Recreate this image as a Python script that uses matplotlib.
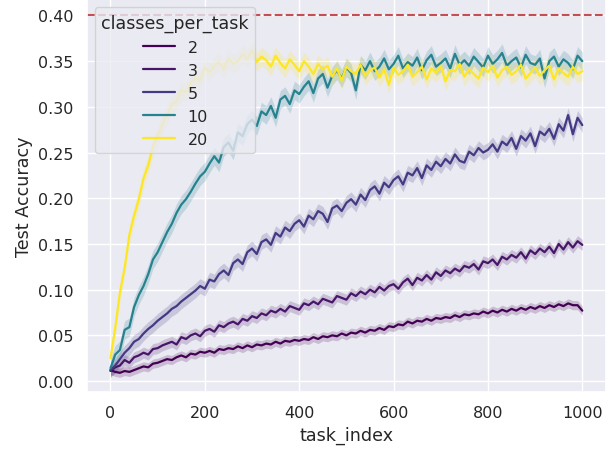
import numpy as np
import matplotlib
matplotlib.use("Agg")
import matplotlib.pyplot as plt
import seaborn as sns

# classes per task (hue levels)
classes_per_task = [2, 3, 5, 10, 20]

# task index, sampled every 10 tasks
task_index = list(range(0, 1001, 10))

acc_2 = [0.012, 0.010, 0.009, 0.011, 0.010, 0.012, 0.014, 0.016, 0.015, 0.019,
         0.020, 0.022, 0.024, 0.023, 0.026, 0.028, 0.026, 0.030, 0.029, 0.032,
         0.031, 0.033, 0.031, 0.035, 0.034, 0.036, 0.035, 0.038, 0.036, 0.039,
         0.037, 0.040, 0.039, 0.041, 0.040, 0.043, 0.041, 0.044, 0.043, 0.045,
         0.044, 0.046, 0.045, 0.048, 0.046, 0.049, 0.048, 0.050, 0.049, 0.052,
         0.050, 0.053, 0.052, 0.055, 0.053, 0.056, 0.055, 0.058, 0.056, 0.060,
         0.059, 0.062, 0.061, 0.065, 0.063, 0.066, 0.065, 0.068, 0.066, 0.069,
         0.068, 0.070, 0.069, 0.072, 0.070, 0.073, 0.072, 0.074, 0.073, 0.076,
         0.074, 0.077, 0.075, 0.078, 0.076, 0.079, 0.077, 0.080, 0.078, 0.081,
         0.079, 0.082, 0.080, 0.083, 0.081, 0.084, 0.082, 0.085, 0.083, 0.083,
         0.077]

acc_3 = [0.011, 0.015, 0.017, 0.023, 0.020, 0.026, 0.028, 0.031, 0.029, 0.035,
         0.036, 0.039, 0.041, 0.043, 0.040, 0.048, 0.046, 0.050, 0.052, 0.049,
         0.055, 0.057, 0.054, 0.061, 0.059, 0.063, 0.065, 0.062, 0.068, 0.066,
         0.071, 0.069, 0.074, 0.072, 0.077, 0.075, 0.079, 0.076, 0.082, 0.080,
         0.078, 0.085, 0.083, 0.087, 0.084, 0.090, 0.088, 0.086, 0.093, 0.091,
         0.089, 0.096, 0.093, 0.098, 0.095, 0.100, 0.097, 0.103, 0.099, 0.104,
         0.106, 0.101, 0.108, 0.112, 0.105, 0.113, 0.110, 0.116, 0.111, 0.119,
         0.115, 0.121, 0.118, 0.123, 0.120, 0.126, 0.124, 0.128, 0.122, 0.131,
         0.129, 0.133, 0.127, 0.136, 0.133, 0.138, 0.135, 0.141, 0.134, 0.143,
         0.139, 0.145, 0.141, 0.147, 0.140, 0.150, 0.144, 0.152, 0.146, 0.153,
         0.149]

acc_5 = [0.012, 0.017, 0.024, 0.031, 0.036, 0.043, 0.046, 0.052, 0.057, 0.061,
         0.066, 0.070, 0.074, 0.079, 0.082, 0.087, 0.091, 0.095, 0.099, 0.104,
         0.101, 0.111, 0.109, 0.117, 0.121, 0.116, 0.129, 0.133, 0.128, 0.141,
         0.145, 0.139, 0.152, 0.155, 0.149, 0.162, 0.158, 0.168, 0.164, 0.172,
         0.176, 0.169, 0.181, 0.177, 0.186, 0.183, 0.174, 0.189, 0.192, 0.186,
         0.195, 0.199, 0.193, 0.204, 0.198, 0.209, 0.213, 0.205, 0.217, 0.212,
         0.220, 0.224, 0.215, 0.228, 0.225, 0.233, 0.222, 0.236, 0.231, 0.240,
         0.235, 0.243, 0.238, 0.248, 0.241, 0.239, 0.251, 0.247, 0.255, 0.250,
         0.253, 0.259, 0.251, 0.262, 0.258, 0.266, 0.254, 0.268, 0.263, 0.271,
         0.257, 0.273, 0.269, 0.276, 0.265, 0.281, 0.274, 0.291, 0.270, 0.288,
         0.280]

acc_10 = [0.014, 0.029, 0.034, 0.056, 0.059, 0.081, 0.094, 0.104, 0.117, 0.133,
          0.141, 0.152, 0.163, 0.172, 0.184, 0.193, 0.199, 0.207, 0.216, 0.224,
          0.229, 0.238, 0.246, 0.239, 0.256, 0.261, 0.252, 0.272, 0.268, 0.281,
          0.286, 0.279, 0.295, 0.291, 0.301, 0.288, 0.308, 0.312, 0.303, 0.318,
          0.314, 0.322, 0.328, 0.315, 0.331, 0.336, 0.321, 0.334, 0.340, 0.331,
          0.343, 0.337, 0.318, 0.346, 0.340, 0.350, 0.339, 0.344, 0.353, 0.341,
          0.347, 0.356, 0.342, 0.349, 0.345, 0.354, 0.340, 0.351, 0.357, 0.344,
          0.348, 0.353, 0.342, 0.358, 0.346, 0.351, 0.345, 0.355, 0.349, 0.343,
          0.356, 0.347, 0.352, 0.359, 0.345, 0.350, 0.354, 0.343, 0.357, 0.348,
          0.346, 0.353, 0.331, 0.350, 0.355, 0.344, 0.352, 0.348, 0.341, 0.356,
          0.350]

acc_20 = [0.025, 0.058, 0.097, 0.124, 0.160, 0.181, 0.199, 0.222, 0.236, 0.257,
          0.268, 0.281, 0.291, 0.303, 0.306, 0.318, 0.316, 0.327, 0.331, 0.329,
          0.343, 0.338, 0.345, 0.349, 0.341, 0.353, 0.347, 0.350, 0.358, 0.352,
          0.362, 0.349, 0.355, 0.351, 0.344, 0.356, 0.348, 0.342, 0.352, 0.346,
          0.339, 0.350, 0.344, 0.336, 0.347, 0.341, 0.345, 0.333, 0.342, 0.329,
          0.344, 0.339, 0.336, 0.346, 0.334, 0.340, 0.343, 0.332, 0.341, 0.324,
          0.343, 0.335, 0.339, 0.346, 0.333, 0.338, 0.344, 0.330, 0.342, 0.337,
          0.345, 0.328, 0.340, 0.339, 0.347, 0.333, 0.341, 0.336, 0.331, 0.343,
          0.338, 0.345, 0.332, 0.340, 0.344, 0.335, 0.339, 0.346, 0.331, 0.337,
          0.343, 0.334, 0.340, 0.345, 0.330, 0.342, 0.337, 0.333, 0.344, 0.336,
          0.339]

# rough half-width of the shaded confidence band per series
band_halfwidth = [0.005, 0.006, 0.008, 0.010, 0.010]

target_acc = 0.40

sns.set_theme(style="darkgrid", font_scale=1.05)

fig = plt.figure(figsize=(6.12, 4.52), dpi=100)
ax = fig.add_axes([0.142, 0.1305, 0.848, 0.8695])

cmap = plt.get_cmap("viridis")
norm = matplotlib.colors.Normalize(min(classes_per_task), max(classes_per_task))

series = [acc_2, acc_3, acc_5, acc_10, acc_20]
x = np.array(task_index)
for k, acc, hw in zip(classes_per_task, series, band_halfwidth):
    y = np.array(acc)
    c = cmap(norm(k))
    ax.fill_between(x, y - hw, y + hw, color=c, alpha=0.2, linewidth=0)
    ax.plot(x, y, color=c, lw=1.6, label=str(k))

ax.axhline(target_acc, color="r", linestyle="--")

ax.set_xlim(-50, 1050)
ax.set_ylim(-0.012, 0.418)
ax.set_xlabel("task_index")
ax.set_ylabel("Test Accuracy")
ax.legend(title="classes_per_task", loc="upper left")

fig.savefig("out.png", dpi=100)
